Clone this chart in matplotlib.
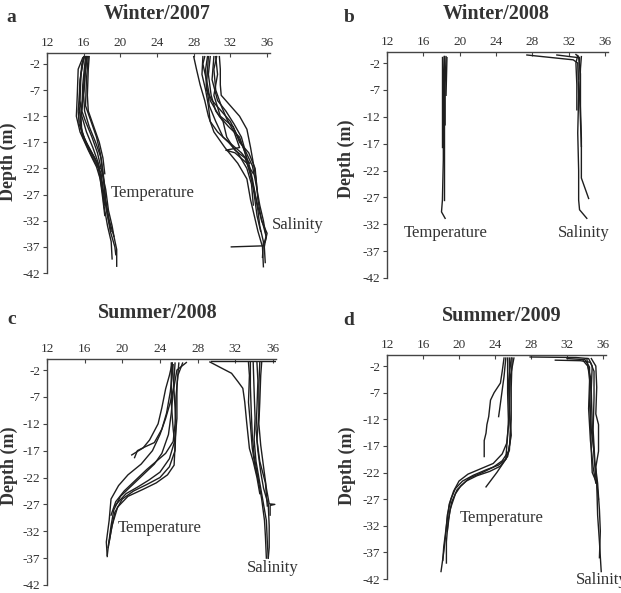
import matplotlib
matplotlib.use("Agg")
import matplotlib.pyplot as plt

plt.rcParams["font.family"] = ["Liberation Serif", "DejaVu Serif"]
plt.rcParams["axes.unicode_minus"] = False

# profiles: lists of (value, depth) pairs
a_temp = [
    [(16.3, -0.6), (16.2, -3), (16.0, -8), (16.1, -11), (16.6, -14), (17.3, -17), (17.9, -20), (18.2, -24), (18.4, -28), (18.8, -32), (19.3, -35), (19.6, -37.5), (19.6, -40.7)],
    [(16.0, -0.6), (15.7, -4), (15.6, -9), (15.8, -12), (16.3, -15), (17.0, -18), (17.6, -21), (18.0, -25), (18.2, -29), (18.6, -33), (19.0, -36), (19.1, -39.3)],
    [(16.5, -0.6), (16.3, -5), (16.2, -10), (16.8, -13), (17.4, -16), (17.8, -19), (18.1, -23), (18.3, -27), (18.5, -30), (18.9, -34), (19.4, -37), (19.5, -38.5)],
    [(15.9, -0.8), (15.4, -3), (15.3, -8), (15.2, -12), (15.6, -15), (16.5, -18.5), (17.4, -21.7), (17.8, -24), (18.1, -28), (18.3, -31)],
    [(16.2, -0.6), (15.9, -6), (15.8, -11), (16.2, -13), (16.9, -16), (17.5, -19), (17.9, -22), (18.4, -26), (18.7, -30), (19.1, -33), (19.3, -35)],
    [(16.4, -0.6), (16.1, -4), (15.9, -9), (15.6, -13), (15.9, -16), (16.7, -19), (17.6, -22), (18.0, -26), (18.3, -29)],
    [(16.1, -0.6), (15.8, -2), (15.6, -6), (15.5, -10), (15.7, -14), (16.2, -17), (17.0, -19.5), (17.8, -22)],
    [(16.6, -0.6), (16.5, -3), (16.4, -8), (16.5, -11), (17.1, -14), (17.7, -17), (18.1, -20), (18.3, -23)],
    [(16.0, -1), (15.6, -5), (15.5, -9), (15.4, -11), (15.5, -13.5), (16.0, -16), (16.9, -19), (17.5, -21)],
    [(16.3, -0.6), (16.0, -7), (15.7, -12), (15.8, -15), (16.4, -17.5), (17.2, -20), (17.9, -23), (18.2, -27), (18.6, -31), (19.0, -34)],
]
a_sal = [
    [(28.0, -0.6), (28.3, -3), (28.7, -6), (29.2, -9), (29.6, -12), (30.2, -15), (31.4, -18), (32.8, -21), (33.8, -24), (34.2, -28), (34.6, -31), (35.0, -34), (35.5, -37), (35.6, -40.8)],
    [(29.5, -0.6), (29.3, -3), (29.4, -7), (30.0, -9), (31.0, -11), (32.0, -13), (32.7, -15.5), (33.4, -18), (34.0, -21), (34.4, -24), (34.7, -27), (35.1, -30), (35.6, -33), (35.9, -35), (35.7, -37), (35.8, -40)],
    [(30.8, -0.6), (30.9, -3), (30.9, -6), (31.0, -8), (32.0, -10), (33.0, -12), (33.8, -14.5), (34.2, -18), (34.5, -21), (34.8, -24), (35.0, -28), (35.4, -32), (36.0, -34.4), (35.8, -36)],
    [(29.8, -0.6), (29.6, -4), (29.9, -8), (30.4, -11), (31.2, -13), (31.6, -16), (32.5, -18.5), (33.6, -20), (34.2, -23), (34.6, -27), (34.9, -31), (35.3, -34)],
    [(30.2, -0.6), (30.0, -5), (30.6, -9), (31.5, -11), (32.4, -13.5), (33.2, -16), (33.6, -18.5), (34.4, -21.5), (34.8, -25), (35.2, -29), (35.6, -32), (35.9, -35), (35.6, -36.8), (32.1, -37.0)],
    [(29.0, -0.6), (28.9, -4), (29.3, -7), (29.6, -10), (29.8, -13), (30.6, -15), (31.8, -17), (32.8, -19), (33.8, -22), (34.3, -25), (34.5, -29)],
    [(30.5, -0.6), (30.2, -3), (30.4, -7), (31.0, -10), (31.6, -12.5), (32.4, -15), (33.0, -18), (31.5, -18.5), (32.5, -19), (33.8, -21), (34.5, -23)],
    [(29.2, -0.6), (29.0, -2), (29.5, -6), (29.8, -9), (30.8, -12), (31.8, -14), (33.0, -16), (33.6, -19), (34.0, -22), (34.6, -26), (35.0, -30), (35.2, -33), (35.6, -36), (35.5, -39)],
    [(30.4, -0.6), (30.6, -4), (30.2, -8), (30.9, -12), (32.3, -14), (33.0, -17), (34.0, -19), (34.7, -22), (34.9, -26)],
    [(29.6, -0.6), (29.4, -6), (29.7, -10), (30.4, -13), (31.2, -16), (32.2, -17.5), (33.2, -19), (34.1, -21)],
]

b_temp = [
    [(18.3, -0.8), (18.2, -5), (18.2, -14), (18.2, -20), (18.1, -27.5), (18.0, -29.7), (18.4, -30.9)],
    [(18.5, -0.8), (18.4, -6), (18.4, -13.5)],
    [(18.1, -0.8), (18.1, -17.6)],
    [(18.6, -1.0), (18.5, -8)],
    [(18.3, -0.6), (18.3, -27.5)],
]
b_sal = [
    [(27.4, -0.5), (32.5, -1.4), (33.0, -2), (33.1, -8), (33.0, -15), (33.1, -22), (33.1, -27.5), (33.2, -29.3), (34.0, -30.9)],
    [(30.7, -0.5), (33.1, -1.0), (33.3, -4), (33.3, -10), (33.4, -16), (33.4, -23.4), (34.2, -27.2)],
    [(33.0, -0.6), (32.8, -2), (32.9, -6), (32.9, -10.7)],
    [(33.4, -0.8), (33.3, -3), (33.2, -8), (33.4, -17.5)],
    [(32.8, -0.4), (33.2, -1), (33.1, -5)],
]

c_temp = [
    [(25.3, -0.7), (25.0, -3), (24.6, -5.5), (24.2, -9), (23.8, -12), (22.9, -15), (22.2, -16.5), (21.0, -17.8)],
    [(26.8, -0.6), (25.8, -2), (25.5, -5), (25.1, -8), (24.6, -11), (24.0, -14), (23.2, -17), (22.0, -19.5), (20.6, -21.5), (19.6, -23.5), (18.8, -26), (18.6, -30), (18.3, -34), (18.4, -36.7)],
    [(25.6, -0.7), (25.4, -6), (25.2, -10), (24.9, -14), (24.2, -17.5), (23.4, -19.5), (22.2, -21.5), (21.0, -23.5), (19.8, -25.5), (19.1, -28), (18.8, -31), (18.5, -35), (18.4, -36.5)],
    [(26.0, -0.7), (25.8, -5), (25.8, -11), (25.6, -15), (25.0, -18.5), (24.0, -21), (22.8, -22.5), (21.6, -23.8), (20.4, -25), (19.6, -26.5), (19.2, -27.3)],
    [(25.2, -0.7), (25.2, -8), (25.4, -13), (25.6, -16), (25.5, -19.7), (24.8, -21.5), (23.6, -23), (22.2, -24.2), (20.6, -25.5), (19.5, -27.5), (18.9, -31), (18.6, -34)],
    [(26.4, -0.7), (25.9, -3), (25.7, -7), (25.6, -12), (25.4, -15.3), (24.6, -17.5), (23.6, -19), (22.6, -20.5), (21.4, -22.5), (20.2, -24.5), (19.3, -26.5), (18.8, -29)],
    [(25.4, -1.0), (25.1, -6), (24.7, -10), (24.2, -13), (23.4, -15.5), (22.4, -16.3), (21.6, -17), (21.3, -18.3)],
    [(25.3, -0.7), (25.5, -6), (25.7, -12), (25.6, -17), (25.0, -20), (24.0, -22), (22.6, -23.3), (21.2, -24.5), (20.0, -26), (19.2, -28.5), (18.8, -32), (18.5, -35)],
]
c_sal = [
    [(29.3, -0.5), (30.5, -1.6), (31.6, -2.6), (32.3, -4.2), (32.8, -5.4), (33.0, -7.9), (33.2, -11.6), (33.5, -16.6), (33.9, -19), (34.3, -22), (34.6, -25)],
    [(29.4, -0.4), (36.4, -0.4)],
    [(33.6, -0.6), (33.6, -5), (33.7, -10), (33.8, -14), (34.0, -18), (34.4, -22), (34.8, -26), (35.1, -30), (35.2, -33), (35.3, -37)],
    [(34.3, -0.6), (34.4, -4), (34.3, -9), (34.2, -13), (34.4, -17), (34.7, -21), (35.0, -24), (35.5, -27), (35.6, -31), (35.6, -35), (35.5, -37)],
    [(34.8, -0.6), (34.7, -3), (34.6, -8), (34.5, -12), (34.7, -16), (35.0, -20), (35.3, -24), (35.6, -26.9), (36.2, -27.0), (35.7, -27.2), (35.7, -29)],
    [(33.9, -0.6), (34.0, -6), (34.1, -11), (34.0, -15), (34.2, -19), (34.6, -23), (35.0, -27), (35.3, -30), (35.4, -34), (35.5, -37)],
    [(34.6, -0.6), (34.5, -5), (34.5, -10), (34.3, -15), (34.6, -19), (35.2, -23), (35.4, -27.3)],
    [(33.4, -0.6), (33.5, -3), (33.4, -8), (33.6, -12), (33.8, -16.5), (34.1, -20), (34.5, -23)],
]

d_temp = [
    [(25.0, -0.5), (24.8, -3), (24.6, -5.2), (23.9, -7), (23.5, -8.4), (23.3, -11.5), (23.1, -13), (23.0, -14.6), (22.8, -16), (22.8, -19.0)],
    [(25.2, -0.5), (25.0, -4), (24.8, -6.5), (24.5, -10.3), (24.4, -11.5)],
    [(25.6, -0.5), (25.6, -8), (25.7, -14), (25.6, -17.8), (25.2, -19.5), (24.4, -20.6), (23.0, -21.5), (21.6, -22.5), (20.4, -23.6), (19.6, -25), (19.1, -27), (18.7, -30), (18.5, -34), (18.3, -37), (18.0, -40.6)],
    [(25.9, -0.5), (25.8, -6), (25.8, -12), (25.7, -16), (25.4, -19), (24.6, -20.8), (23.4, -21.8), (22.0, -22.6), (20.8, -23.6), (19.8, -25.2), (19.2, -27.5), (18.8, -31), (18.6, -35), (18.6, -39)],
    [(25.4, -0.5), (25.4, -7), (25.5, -13), (25.3, -16.5), (24.8, -18.5), (23.8, -20.3), (22.4, -21.3), (21.0, -22.3), (20.0, -23.6), (19.4, -25.5), (18.9, -28), (18.6, -32), (18.3, -36), (18.2, -38.5)],
    [(26.1, -0.5), (25.7, -4), (25.6, -10), (25.4, -15), (25.2, -19.5), (24.2, -22.0), (23.0, -24.7)],
    [(25.8, -0.5), (25.5, -5), (25.6, -11), (25.8, -15), (25.5, -18), (24.8, -19.8), (23.8, -21), (22.6, -22), (21.2, -23), (20.2, -24.5), (19.6, -26), (19.0, -29), (18.7, -33)],
]
d_sal = [
    [(27.9, -0.3), (33.0, -0.4), (34.4, -0.6), (34.8, -2), (34.7, -6), (34.6, -12), (34.7, -18), (34.8, -22), (35.3, -24), (35.4, -30), (35.6, -35), (35.8, -40.6)],
    [(30.7, -0.9), (33.5, -1.0), (34.6, -1.3), (35.0, -3), (35.0, -8), (34.9, -14), (35.1, -20), (35.4, -24), (35.6, -29), (35.7, -33), (35.6, -38)],
    [(32.0, -0.6), (34.0, -0.8), (34.5, -2.2), (34.5, -5), (34.4, -10), (34.6, -16), (34.9, -21), (35.2, -24)],
    [(34.2, -0.6), (34.4, -3), (34.7, -7), (34.8, -13), (35.0, -19), (35.2, -23)],
    [(34.7, -0.6), (35.2, -2), (35.3, -6), (35.2, -11), (35.5, -13), (35.5, -18), (35.2, -21), (35.3, -24), (35.5, -27)],
    [(33.8, -1.0), (34.3, -2), (34.6, -4), (34.5, -9), (34.7, -14), (35.0, -18)],
]

x_ticks = [12, 16, 20, 24, 28, 32, 36]
y_ticks = [-2, -7, -12, -17, -22, -27, -32, -37, -42]

titles = ["Winter/2007", "Winter/2008", "Summer/2008", "Summer/2009"]
letters = ["a", "b", "c", "d"]

fig = plt.figure(figsize=(6.21, 5.93), dpi=100)

panels = [
    dict(rect=[0.0757, 0.5396, 0.3588, 0.3702], temp=a_temp, sal=a_sal,
         t_pos=(18.9, -26.7, "left"), s_pos=(36.5, -32.8, "left"),
         title=(0.2528, 0.976), letter=(0.0177, 0.970), ylab=(0.0129, 0.727)),
    dict(rect=[0.6232, 0.5312, 0.3554, 0.3806], temp=b_temp, sal=b_sal,
         t_pos=(18.5, -33.6, "center"), s_pos=(33.7, -33.6, "center"),
         title=(0.7987, 0.976), letter=(0.562, 0.971), ylab=(0.557, 0.732)),
    dict(rect=[0.0757, 0.0135, 0.3684, 0.3806], temp=c_temp, sal=c_sal,
         t_pos=(24.0, -31.4, "center"), s_pos=(36.0, -38.8, "center"),
         title=(0.2544, 0.472), letter=(0.0193, 0.462), ylab=(0.0145, 0.214)),
    dict(rect=[0.6232, 0.0236, 0.3522, 0.3771], temp=d_temp, sal=d_sal,
         t_pos=(24.7, -30.5, "center"), s_pos=(33.0, -42.2, "left"),
         title=(0.8084, 0.467), letter=(0.562, 0.460), ylab=(0.5588, 0.214)),
]

for i, p in enumerate(panels):
    ax = fig.add_axes(p["rect"])
    for prof in p["temp"] + p["sal"]:
        xs = [v for v, d in prof]
        ys = [d for v, d in prof]
        ax.plot(xs, ys, color="#1e1e1e", lw=1.0)
    ax.set_xlim(12, 36.3)
    ax.set_ylim(-42, 0)
    ax.set_xticks(x_ticks)
    ax.set_yticks(y_ticks)
    ax.xaxis.tick_top()
    ax.spines["right"].set_visible(False)
    ax.spines["bottom"].set_visible(False)
    for s in ("top", "left"):
        ax.spines[s].set_color("#444444")
        ax.spines[s].set_linewidth(1.0)
    ax.tick_params(axis="x", direction="in", length=3, labelsize=9.5,
                   colors="#444444", labelcolor="#333333", pad=3)
    ax.tick_params(axis="y", direction="out", length=3, labelsize=9.5,
                   colors="#444444", labelcolor="#333333", pad=2)

    tx, ty, tha = p["t_pos"]
    ax.text(tx, ty, "Temperature", fontsize=12, color="#333333", ha=tha, va="center")
    sx, sy, sha = p["s_pos"]
    ax.text(sx, sy, "Salinity", fontsize=12, color="#333333", ha=sha, va="center")

    fig.text(p["title"][0], p["title"][1], titles[i], fontsize=14.5,
             fontweight="bold", color="#333333", ha="center", va="center")
    fig.text(p["letter"][0], p["letter"][1], letters[i], fontsize=14,
             fontweight="bold", color="#333333", ha="center", va="center")
    fig.text(p["ylab"][0], p["ylab"][1], "Depth (m)", fontsize=13,
             fontweight="bold", color="#333333", rotation=90, ha="center", va="center")

fig.savefig("out.png", dpi=100)
